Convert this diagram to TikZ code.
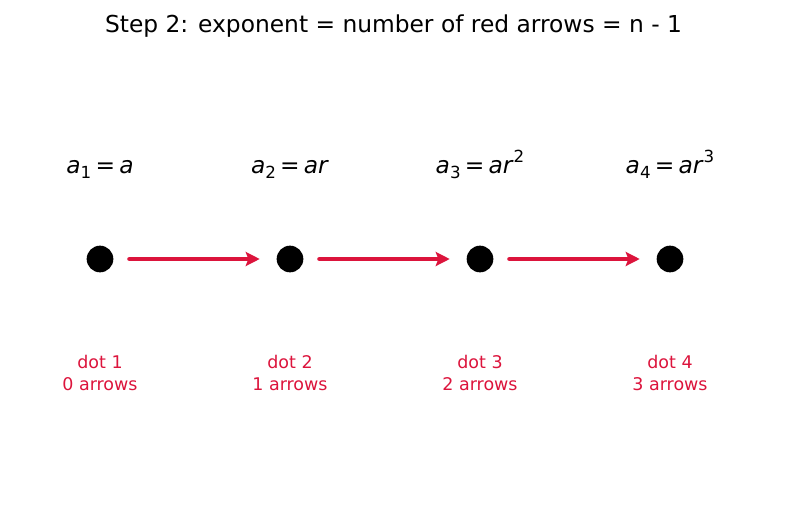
\documentclass[tikz,border=0pt]{standalone}
\usepackage{fontspec}
\setmainfont{DejaVu Sans}
\usetikzlibrary{arrows.meta}
\definecolor{crim}{RGB}{220,20,60}
\newcommand{\mysub}[2]{\textit{#1}\raisebox{-0.25em}{\fontsize{12.5}{12.5}\selectfont #2}}
\newcommand{\mysup}[2]{\textit{#1}\raisebox{0.45em}{\fontsize{12.5}{12.5}\selectfont #2}}
\newcommand{\myeq}{\hspace{0.18em}=\hspace{0.18em}}
\begin{document}
\begin{tikzpicture}[x=0.75pt,y=-0.75pt,
  dotn/.style={circle,fill=black,minimum size=20pt,inner sep=0pt},
  eqn/.style={font=\fontsize{17.5}{20}\selectfont,anchor=base},
  lbl/.style={font=\fontsize{13.1}{15.8}\selectfont,text=crim,align=center},
  arr/.style={crim,line width=3.6pt,line cap=round,-{Stealth[length=10.5pt,width=10.5pt,inset=2pt]}},
  ttl/.style={font=\fontsize{17.5}{20}\selectfont}]
\useasboundingbox (0,0) rectangle (787,510);
\node[ttl] (title) at (393.5,26) {Step 2: exponent = number of red arrows = n - 1};
\foreach \i/\x in {1/100,2/290,3/480,4/670}{
  \node[dotn] (d\i) at (\x,259) {};
  \node[lbl] (l\i) at (\x,373) {dot \i\\\the\numexpr\i-1\relax{} arrows};
}
\node[eqn] (e1) at (100,173) {\mysub{a}{1}\myeq\textit{a}};
\node[eqn] (e2) at (290,173) {\mysub{a}{2}\myeq\textit{ar}};
\node[eqn] (e3) at (480,173) {\mysub{a}{3}\myeq\mysup{ar}{2}};
\node[eqn] (e4) at (670,173) {\mysub{a}{4}\myeq\mysup{ar}{3}};
\draw[arr] ([xshift=12pt]d1.east) -- ([xshift=-12.5pt]d2.west);
\draw[arr] ([xshift=12pt]d2.east) -- ([xshift=-12.5pt]d3.west);
\draw[arr] ([xshift=12pt]d3.east) -- ([xshift=-12.5pt]d4.west);
\end{tikzpicture}
\end{document}
